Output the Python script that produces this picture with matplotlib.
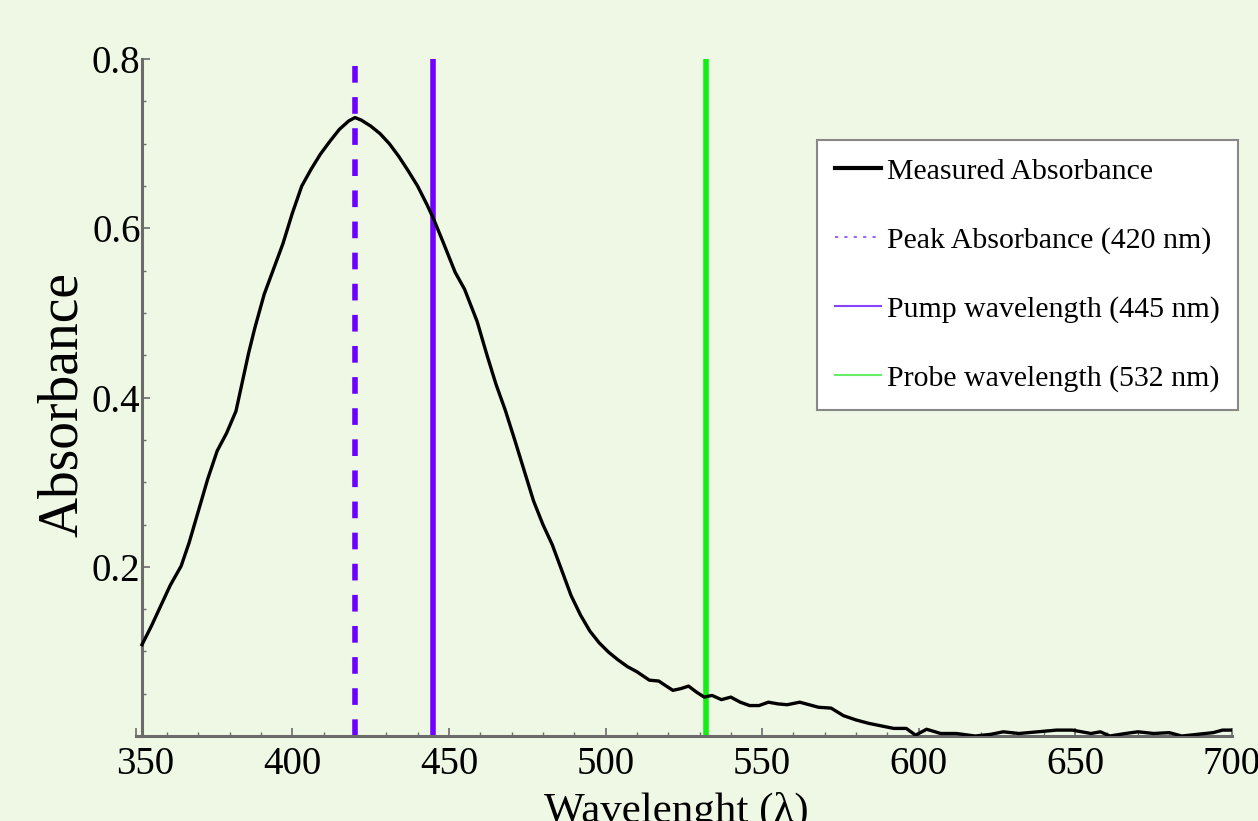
import matplotlib.pyplot as plt
from matplotlib.lines import Line2D
from matplotlib.ticker import MultipleLocator
from matplotlib.transforms import ScaledTranslation

# measured absorbance spectrum
wavelength = [352, 355, 358, 361, 364.5, 367, 370, 373, 376, 379, 382, 384, 386,
              388, 391, 394, 397, 400, 403, 406, 409, 412, 415, 418, 420, 422,
              425, 428, 431, 434, 437, 440, 443, 445, 448, 452, 455, 459, 462,
              465, 468, 471, 474, 477, 480, 483, 486, 489, 492, 495, 498, 501,
              504, 507, 510, 514, 517, 519, 521.5, 524, 526.5, 529, 531.5, 534,
              537, 540, 543, 546, 549, 552, 555, 558, 562, 565, 568, 572, 576,
              580, 584, 588, 592, 596, 599, 602.5, 607, 612, 618, 623, 627, 632,
              638, 644, 649, 655, 658, 661, 666, 670, 675, 680, 684, 689, 694,
              697, 700]
absorbance = [0.108, 0.130, 0.154, 0.178, 0.201, 0.228, 0.266, 0.304, 0.337, 0.358,
              0.384, 0.418, 0.452, 0.482, 0.522, 0.552, 0.582, 0.618, 0.650, 0.670,
              0.688, 0.703, 0.717, 0.727, 0.731, 0.728, 0.721, 0.712, 0.700, 0.685,
              0.668, 0.650, 0.628, 0.612, 0.585, 0.548, 0.528, 0.490, 0.452, 0.416,
              0.385, 0.350, 0.314, 0.278, 0.250, 0.226, 0.196, 0.166, 0.143, 0.124,
              0.110, 0.099, 0.090, 0.082, 0.076, 0.066, 0.065, 0.060, 0.054, 0.056,
              0.059, 0.052, 0.046, 0.048, 0.043, 0.046, 0.040, 0.036, 0.036, 0.040,
              0.038, 0.037, 0.040, 0.037, 0.034, 0.033, 0.024, 0.019, 0.015, 0.012,
              0.009, 0.009, 0.001, 0.008, 0.003, 0.003, 0.000, 0.002, 0.005, 0.003,
              0.005, 0.007, 0.007, 0.003, 0.005, 0.000, 0.003, 0.005, 0.003, 0.004,
              0.000, 0.002, 0.004, 0.007, 0.007]

peak_nm = 420
pump_nm = 445
probe_nm = 532

legend_labels = ['Measured Absorbance', 'Peak Absorbance (420 nm)',
                 'Pump wavelength (445 nm)', 'Probe wavelength (532 nm)']

bg = '#eff8e5'
axis_gray = '#6b6b6b'
plt.rcParams['font.family'] = ['Liberation Serif', 'DejaVu Serif']

fig = plt.figure(figsize=(12.58, 8.21), dpi=100, facecolor=bg)
ax = fig.add_axes([0.1079, 0.1035, 0.8714, 0.8244])
ax.set_facecolor(bg)

ax.plot(wavelength, absorbance, color='black', lw=2.4, zorder=3)
ax.axvline(peak_nm, color='#6a00ff', lw=4, ls=(0, (3, 2.6)), zorder=2)
ax.axvline(pump_nm, color='#7000ff', lw=4, zorder=2)
ax.axvline(probe_nm, color='#11ee11', lw=4, zorder=2)

ax.set_xlim(350, 700)
ax.set_ylim(0, 0.8)
ax.spines['top'].set_visible(False)
ax.spines['right'].set_visible(False)
ax.spines['left'].set_position(('data', wavelength[0]))
for s in ['left', 'bottom']:
    ax.spines[s].set_color(axis_gray)
    ax.spines[s].set_linewidth(2.2)

ax.xaxis.set_major_locator(MultipleLocator(50))
ax.xaxis.set_minor_locator(MultipleLocator(10))
ax.set_yticks([0.2, 0.4, 0.6, 0.8])
ax.yaxis.set_minor_locator(MultipleLocator(0.05))
ax.tick_params(which='both', direction='in', color=axis_gray, labelsize=28)
ax.tick_params(which='major', length=6, width=1.2)
ax.tick_params(which='minor', length=3, width=1)
ax.tick_params(axis='x', pad=7)
ax.tick_params(axis='y', pad=1)

ax.set_xlabel('Wavelenght (λ)', fontsize=31)
ax.xaxis.set_label_coords(0.4933, -0.082)
ax.xaxis.label.set_va('top')
ax.set_ylabel('Absorbance', fontsize=40)
ax.yaxis.set_label_coords(-0.043, 0.489)

handles = [Line2D([], [], color='black', lw=3),
           Line2D([], [], color='#9a66ff', lw=1.5, ls=(0, (1.5, 3))),
           Line2D([], [], color='#8844ff', lw=1.5),
           Line2D([], [], color='#66ee66', lw=1.5)]
leg = ax.legend(handles, legend_labels, loc='upper right',
                bbox_to_anchor=(0.9841, 0.8295), bbox_transform=fig.transFigure,
                fontsize=21.5, frameon=True, fancybox=False, framealpha=1,
                edgecolor='#888888', handlelength=1.55, handletextpad=0.2,
                labelspacing=1.4, borderpad=0.6, borderaxespad=0)
leg.get_frame().set_linewidth(1.5)

# first x label sits just right of the y axis, like the original
fig.canvas.draw()
for tick in ax.xaxis.get_major_ticks():
    if abs(tick.get_loc() - 350) < 1e-6:
        tick.label1.set_transform(tick.label1.get_transform()
                                  + ScaledTranslation(0.09, 0, fig.dpi_scale_trans))

plt.savefig('out.png', dpi=100, facecolor=bg)
